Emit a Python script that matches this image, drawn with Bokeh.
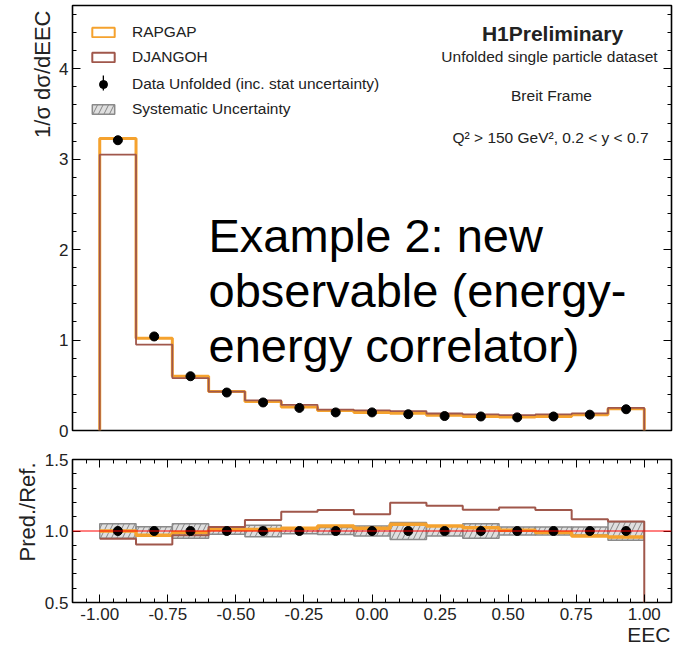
import numpy as np
from bokeh.plotting import figure
from bokeh.layouts import column
from bokeh.models import (LinearAxis, FixedTicker, PrintfTickFormatter, Range1d, Span,
                          Label, Legend, LegendItem, ColumnDataSource, Title)
from bokeh.embed import file_html
from bokeh.resources import INLINE

# ---------------- data ----------------
bin_edges = np.linspace(-1.0, 1.0, 16)          # 15 EEC bins
bin_centers = 0.5 * (bin_edges[:-1] + bin_edges[1:])

rapgap = [3.23, 1.02, 0.60, 0.43, 0.32, 0.26, 0.22, 0.20, 0.19, 0.17, 0.155, 0.148, 0.155, 0.175, 0.24]
djangoh = [3.05, 0.95, 0.58, 0.43, 0.334, 0.284, 0.23, 0.223, 0.215, 0.188, 0.178, 0.169, 0.178, 0.189, 0.25]
data_unfolded = [3.21, 1.04, 0.60, 0.42, 0.31, 0.25, 0.20, 0.20, 0.18, 0.16, 0.155, 0.145, 0.155, 0.175, 0.235]

rapgap_ratio = [1.0, 0.97, 0.99, 1.01, 1.01, 1.02, 1.035, 1.02, 1.047, 1.035, 1.023, 1.005, 0.99, 0.965, 0.958]
djangoh_ratio = [0.946, 0.906, 0.97, 1.028, 1.077, 1.134, 1.146, 1.117, 1.197, 1.176, 1.148, 1.164, 1.146, 1.082, 1.066]
sys_unc = [0.05, 0.03, 0.05, 0.023, 0.04, 0.02, 0.025, 0.035, 0.06, 0.035, 0.05, 0.028, 0.028, 0.028, 0.065]

x_ticks = [-1.0, -0.75, -0.5, -0.25, 0.0, 0.25, 0.5, 0.75, 1.0]
y_ticks_main = [0, 1, 2, 3, 4]
y_ticks_ratio = [0.5, 1.0, 1.5]

# ---------------- style ----------------
FONT = "Liberation Sans"
ORANGE = "#f5a22e"
BROWN = "#a0574b"
TXT = "#222222"
W = 678
NAN = [float("nan")]

x_minor = list(np.round(np.arange(-1.1, 1.1001, 0.05), 3))
y_minor_main = list(np.round(np.arange(0, 4.8, 0.2), 3))
y_minor_ratio = list(np.round(np.arange(0.5, 1.501, 0.1), 3))

SYS_STYLE = dict(fill_color="#c4c4c4", fill_alpha=0.55, line_color="#8a8a8a", line_width=1.5,
                 hatch_pattern="/", hatch_color="#6e6e6e", hatch_alpha=0.8,
                 hatch_scale=11, hatch_weight=1)


def style_axis(ax, labels=True, fs="17px"):
    ax.axis_line_color = None
    ax.major_tick_in = 8
    ax.major_tick_out = 0
    ax.minor_tick_in = 4
    ax.minor_tick_out = 0
    ax.major_tick_line_color = "black"
    ax.minor_tick_line_color = "black"
    ax.major_tick_line_width = 1
    ax.major_label_text_font = FONT
    ax.major_label_text_color = TXT if labels else None
    ax.major_label_text_font_size = fs if labels else "0px"
    ax.major_label_standoff = 4 if labels else 0


def base_fig(height, y_range, top_b, bottom_b, x_range=None):
    p = figure(width=W, height=height,
               x_range=x_range if x_range is not None else Range1d(-1.1, 1.1),
               y_range=y_range, output_backend="svg", toolbar_location=None,
               x_axis_location=None, y_axis_location=None,
               min_border_left=72, min_border_right=7,
               min_border_top=top_b, min_border_bottom=bottom_b)
    p.xgrid.visible = False
    p.ygrid.visible = False
    p.outline_line_color = "black"
    p.outline_line_width = 1.6
    p.background_fill_color = "white"
    p.border_fill_color = "white"
    return p


def side_title(fig, text, side, align, size, offset, standoff):
    fig.add_layout(Title(text=text, align=align, offset=offset, standoff=standoff,
                         text_font=FONT, text_font_size=size, text_font_style="normal",
                         text_color=TXT), side)


# ---------------- main panel ----------------
top = base_fig(445, Range1d(0, 4.7), 5, 15)

yl = LinearAxis(ticker=FixedTicker(ticks=y_ticks_main, minor_ticks=y_minor_main))
style_axis(yl)
top.add_layout(yl, "left")
yr = LinearAxis(ticker=FixedTicker(ticks=y_ticks_main, minor_ticks=y_minor_main))
style_axis(yr, labels=False)
top.add_layout(yr, "right")
side_title(top, "1/\u03c3 d\u03c3/dEEC", "left", "right", "22px", 5, 3)

xs_hist = np.repeat(bin_edges, 2)


def hist_outline(vals):
    return np.concatenate([[0.0], np.repeat(np.asarray(vals, float), 2), [0.0]])


top.line(xs_hist, hist_outline(rapgap), line_color=ORANGE, line_width=3)
top.line(xs_hist, hist_outline(djangoh), line_color=BROWN, line_width=1.8)

src_main = ColumnDataSource(dict(x=bin_centers, y=data_unfolded))
top.scatter("x", "y", source=src_main, size=9, marker="circle",
            fill_color="black", line_color="black")

# legend keys: renderers with no drawable point (NaN) carry the key styles
leg_rap = top.quad(left=NAN, right=NAN, top=NAN, bottom=NAN, fill_alpha=0, line_color=ORANGE, line_width=2)
leg_dj = top.quad(left=NAN, right=NAN, top=NAN, bottom=NAN, fill_alpha=0, line_color=BROWN, line_width=2)
leg_bar = top.quad(left=NAN, right=NAN, top=NAN, bottom=NAN, fill_color="black", line_color=None)
leg_dot = top.scatter(x=NAN, y=NAN, marker="circle", fill_color="black", line_color="black")
leg_sys = top.quad(left=NAN, right=NAN, top=NAN, bottom=NAN, **SYS_STYLE)


def add_legend(fig, label, renderers, loc, gh, gw=28, fs="15.5px", standoff=15):
    lg = Legend(items=[LegendItem(label=label, renderers=renderers)], location=loc,
                glyph_width=gw, glyph_height=gh, label_height=gh, label_standoff=standoff,
                padding=0, margin=0, spacing=0, border_line_color=None,
                background_fill_alpha=0, label_text_font=FONT,
                label_text_font_size=fs, label_text_color=TXT,
                label_text_baseline="middle")
    fig.add_layout(lg)


add_legend(top, "RAPGAP", [leg_rap], (17, 389), 12)
add_legend(top, "DJANGOH", [leg_dj], (17, 364), 12)
add_legend(top, " ", [leg_bar], (30, 338), 19, gw=2, fs="1px", standoff=0)
add_legend(top, "Data Unfolded (inc. stat uncertainty)", [leg_dot], (17, 336), 20)
add_legend(top, "Systematic Uncertainty", [leg_sys], (17, 312), 12)


def txt(fig, x, y, s, size, align="center", bold=False, color=TXT):
    fig.add_layout(Label(x=x, y=y, x_units="screen", y_units="screen", text=s,
                         text_font=FONT, text_font_size=size, text_align=align,
                         text_baseline="alphabetic", text_color=color,
                         text_font_style="bold" if bold else "normal"))


txt(top, 480, 397, "H1Preliminary", "21px", bold=True)
txt(top, 477, 374, "Unfolded single particle dataset", "15.5px")
txt(top, 479, 335, "Breit Frame", "15.5px")
txt(top, 478, 293, "Q\u00b2 > 150 GeV\u00b2, 0.2 < y < 0.7", "15.5px")

txt(top, 136, 195, "Example 2: new", "47px", align="left", color="black")
txt(top, 136, 140, "observable (energy-", "47px", align="left", color="black")
txt(top, 136, 85, "energy correlator)", "47px", align="left", color="black")

# ---------------- ratio panel ----------------
bot = base_fig(203, Range1d(0.5, 1.5), 14, 46, x_range=top.x_range)

xb = LinearAxis(ticker=FixedTicker(ticks=x_ticks, minor_ticks=x_minor),
                formatter=PrintfTickFormatter(format="%.2f"))
style_axis(xb)
xb.major_label_standoff = 5
bot.add_layout(xb, "below")
xa = LinearAxis(ticker=FixedTicker(ticks=x_ticks, minor_ticks=x_minor))
style_axis(xa, labels=False)
bot.add_layout(xa, "above")
ylr = LinearAxis(ticker=FixedTicker(ticks=y_ticks_ratio, minor_ticks=y_minor_ratio),
                 formatter=PrintfTickFormatter(format="%.1f"))
style_axis(ylr)
bot.add_layout(ylr, "left")
yrr = LinearAxis(ticker=FixedTicker(ticks=y_ticks_ratio, minor_ticks=y_minor_ratio))
style_axis(yrr, labels=False)
bot.add_layout(yrr, "right")
side_title(bot, "Pred./Ref.", "left", "right", "22px", 3, 3)
side_title(bot, "EEC", "below", "right", "21px", 1, -4)

sys_arr = np.asarray(sys_unc)
bot.quad(left=bin_edges[:-1], right=bin_edges[1:], bottom=1 - sys_arr, top=1 + sys_arr, **SYS_STYLE)

xs_step = xs_hist[1:-1]
bot.line(xs_step, np.repeat(np.asarray(rapgap_ratio), 2), line_color=ORANGE, line_width=3.5)
bot.line(np.concatenate([xs_step, [bin_edges[-1]]]),
         np.concatenate([np.repeat(np.asarray(djangoh_ratio), 2), [0.0]]),
         line_color=BROWN, line_width=2)

bot.add_layout(Span(location=1.0, dimension="width", line_color="red", line_width=1))

data_ratio = np.asarray(data_unfolded) / np.asarray(data_unfolded)
bot.scatter(bin_centers, data_ratio, size=9, marker="circle", fill_color="black", line_color="black")

layout = column(top, bot, spacing=0)
open("out.html", "w").write(file_html(layout, INLINE))
